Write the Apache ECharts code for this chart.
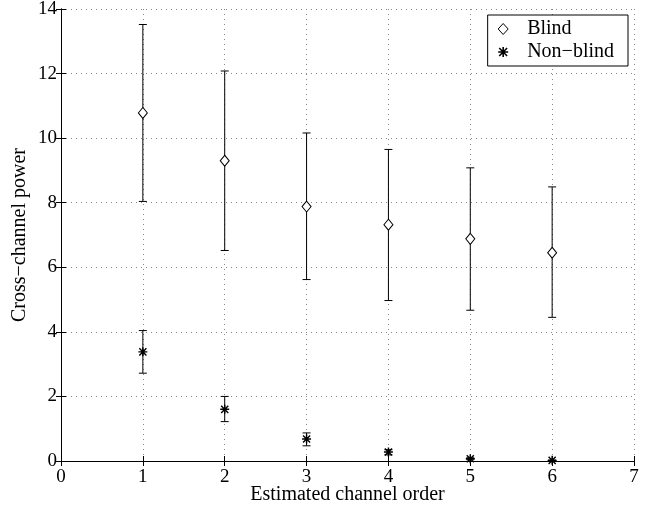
<!DOCTYPE html>
<html>
<head>
<meta charset="utf-8">
<script src="https://cdn.jsdelivr.net/npm/echarts@6/dist/echarts.min.js"></script>
<style>
  html, body { margin: 0; padding: 0; background: #fff; }
  #myChart { width: 660px; height: 508px; }
</style>
</head>
<body>
<div id="myChart"></div>
<script>
// channel orders on the x axis
const orders = [1, 2, 3, 4, 5, 6];

// blind estimate: mean and error bar ends
const blindMean = [10.78, 9.3, 7.88, 7.32, 6.88, 6.45];
const blindLow = [8.04, 6.52, 5.62, 4.97, 4.67, 4.45];
const blindHigh = [13.52, 12.08, 10.16, 9.65, 9.08, 8.49];

// non-blind estimate
const nbMean = [3.38, 1.6, 0.68, 0.28, 0.07, 0.02];
const nbLow = [2.72, 1.22, 0.47, 0.19, 0.04, 0.005];
const nbHigh = [4.04, 2.0, 0.87, 0.35, 0.1, 0.03];

const font = '"Liberation Serif", serif';

// asterisk built from thin bars so it can be filled
const starPath = 'path://M4.2 0L5.8 0L5.8 10L4.2 10Z M0 4.2L10 4.2L10 5.8L0 5.8Z ' +
  'M1.6 0.5L9.5 8.4L8.4 9.5L0.5 1.6Z M8.4 0.5L9.5 1.6L1.6 9.5L0.5 8.4Z';

const myChart = echarts.init(document.getElementById('myChart'));

function errorBars(low, high) {
  return {
    type: 'custom',
    silent: true,
    z: 2,
    renderItem: function (params, api) {
      const x = api.value(0);
      const top = api.coord([x, api.value(2)]);
      const bot = api.coord([x, api.value(1)]);
      const w = 4;
      const st = { stroke: '#000', lineWidth: 1 };
      return {
        type: 'group',
        children: [
          { type: 'line', shape: { x1: top[0], y1: top[1], x2: bot[0], y2: bot[1] }, style: st },
          { type: 'line', shape: { x1: top[0] - w, y1: top[1], x2: top[0] + w, y2: top[1] }, style: st },
          { type: 'line', shape: { x1: bot[0] - w, y1: bot[1], x2: bot[0] + w, y2: bot[1] }, style: st }
        ]
      };
    },
    data: orders.map((o, i) => [o, low[i], high[i]])
  };
}

const axisCommon = {
  type: 'value',
  axisLine: { show: true, lineStyle: { color: '#000', width: 1 } },
  axisTick: { show: true, inside: true, length: 5, lineStyle: { color: '#000' } }
};
const gridLine = { show: true, lineStyle: { color: '#888', type: [1, 4] } };
const titleStyle = { fontFamily: font, fontSize: 20, color: '#000' };

const option = {
  animation: false,
  backgroundColor: '#fff',
  grid: { left: 61, right: 26, top: 9, bottom: 47, outerBoundsMode: 'none', containLabel: false },
  legend: {
    orient: 'vertical',
    right: 32,
    top: 15,
    backgroundColor: '#fff',
    borderColor: '#000',
    borderWidth: 1,
    borderRadius: 0,
    padding: [4, 14, 4, 10],
    itemGap: 3,
    itemWidth: 10,
    itemHeight: 11,
    textStyle: { fontFamily: font, fontSize: 20, color: '#000', padding: [0, 0, 0, 14] },
    data: [
      { name: 'Blind', icon: 'diamond', itemStyle: { color: '#fff', borderColor: '#000', borderWidth: 1 } },
      { name: 'Non\u2212blind', icon: starPath, itemStyle: { color: '#000' } }
    ]
  },
  xAxis: [
    Object.assign({}, axisCommon, {
      min: 0, max: 7, interval: 1,
      name: 'Estimated channel order',
      nameLocation: 'middle',
      nameGap: 24,
      nameMoveOverlap: false,
      nameTextStyle: titleStyle,
      axisLabel: { color: '#000', fontFamily: font, fontSize: 19, margin: 7 },
      splitLine: gridLine
    }),
    Object.assign({}, axisCommon, {
      position: 'top', min: 0, max: 7, interval: 1,
      axisLabel: { show: false }, splitLine: { show: false }
    })
  ],
  yAxis: [
    Object.assign({}, axisCommon, {
      min: 0, max: 14, interval: 2,
      name: 'Cross\u2212channel power',
      nameLocation: 'middle',
      nameGap: 31,
      nameMoveOverlap: false,
      nameTextStyle: titleStyle,
      axisLabel: { color: '#000', fontFamily: font, fontSize: 19, margin: 4 },
      splitLine: gridLine
    }),
    Object.assign({}, axisCommon, {
      position: 'right', min: 0, max: 14, interval: 2,
      axisLabel: { show: false }, splitLine: { show: false }
    })
  ],
  series: [
    errorBars(blindLow, blindHigh),
    errorBars(nbLow, nbHigh),
    {
      name: 'Blind',
      type: 'scatter',
      z: 3,
      symbol: 'diamond',
      symbolSize: [9, 11],
      itemStyle: { color: '#fff', borderColor: '#000', borderWidth: 1, opacity: 1 },
      data: orders.map((o, i) => [o, blindMean[i]])
    },
    {
      name: 'Non\u2212blind',
      type: 'scatter',
      z: 3,
      symbol: starPath,
      symbolSize: 9,
      itemStyle: { color: '#000', opacity: 1 },
      data: orders.map((o, i) => [o, nbMean[i]])
    }
  ]
};

myChart.setOption(option);
</script>
</body>
</html>
